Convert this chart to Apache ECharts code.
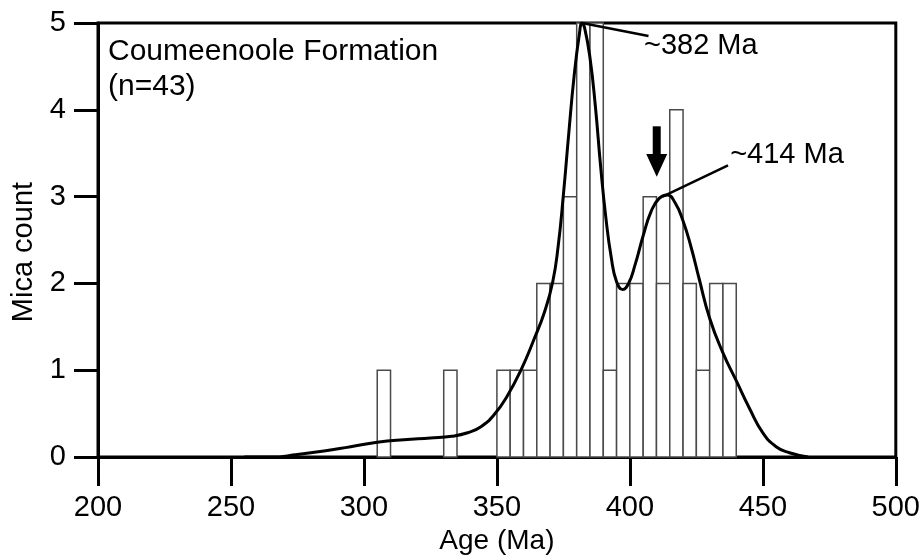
<!DOCTYPE html>
<html>
<head>
<meta charset="utf-8">
<script src="https://cdn.jsdelivr.net/npm/echarts@6/dist/echarts.min.js"></script>
<style>
html,body{margin:0;padding:0;background:#fff;}
#chart{width:923px;height:560px;}
</style>
</head>
<body>
<div id="chart"></div>
<script>
// Histogram bins (start age, Ma) and counts, bin width 5 Ma
const binStarts = [305, 330, 350, 355, 360, 365, 370, 375, 380, 385, 390, 395, 400, 405, 410, 415, 420, 425, 430, 435];
const binCounts = [1, 1, 1, 1, 1, 2, 2, 3, 5, 5, 1, 2, 2, 3, 2, 4, 2, 1, 2, 2];
const binWidth = 5;

// Probability density curve (age, scaled count)
const curveAges = [255, 265, 275, 285, 295, 305, 315, 325, 333, 339, 344, 349, 354, 359, 364, 368, 371, 373, 375, 377, 379, 381, 382, 383, 385, 387, 389, 391, 393, 395, 397.3, 399.5, 402, 405, 408, 411, 414, 417, 420, 423, 426, 430, 435, 440, 445, 450, 455, 460, 467];
const curveValues = [0, 0, 0.03, 0.07, 0.12, 0.17, 0.2, 0.22, 0.24, 0.28, 0.35, 0.49, 0.71, 1.0, 1.36, 1.68, 2.02, 2.42, 3.02, 3.72, 4.38, 4.87, 5.0, 4.94, 4.6, 4.05, 3.35, 2.75, 2.3, 2.02, 1.93, 2.0, 2.22, 2.55, 2.83, 2.98, 3.02, 2.93, 2.72, 2.42, 2.06, 1.6, 1.2, 0.88, 0.56, 0.28, 0.12, 0.05, 0];

// Axis ticks
const xTicks = [200, 250, 300, 350, 400, 450, 500];
const yTicks = [0, 1, 2, 3, 4, 5];

// Peak labels
const peakAges = [382, 414];
const peakTexts = ['~382 Ma', '~414 Ma'];

const FONT = 'Liberation Sans, Arial, sans-serif';

const histData = binStarts.map((s, i) => [s, binCounts[i]]);
const curveData = curveAges.map((a, i) => [a, curveValues[i]]);

const chart = echarts.init(document.getElementById('chart'), null, {renderer: 'canvas'});

const option = {
  backgroundColor: '#fff',
  animation: false,
  title: {
    text: 'Coumeenoole Formation\n(n=43)',
    left: 103,
    top: 29,
    textStyle: {fontFamily: FONT, fontSize: 30, fontWeight: 'normal', color: '#000', lineHeight: 35}
  },
  grid: {
    left: 98, right: 21, top: 23, bottom: 94,
    show: true, borderColor: '#000', borderWidth: 3, backgroundColor: 'transparent'
  },
  xAxis: {
    type: 'value',
    min: xTicks[0], max: xTicks[xTicks.length - 1], interval: 50,
    name: 'Age (Ma)', nameLocation: 'middle', nameGap: 67,
    nameTextStyle: {fontFamily: FONT, fontSize: 28, color: '#000'},
    axisLine: {show: true, onZero: false, lineStyle: {color: '#000', width: 3}},
    axisTick: {show: true, inside: false, length: 29, lineStyle: {color: '#000', width: 3}},
    axisLabel: {fontFamily: FONT, fontSize: 29, color: '#000', margin: 36},
    splitLine: {show: false}
  },
  yAxis: {
    type: 'value',
    min: yTicks[0], max: yTicks[yTicks.length - 1], interval: 1,
    name: 'Mica count', nameLocation: 'middle', nameGap: 60,
    nameTextStyle: {fontFamily: FONT, fontSize: 29, color: '#000', padding: [0, 24, 0, 0]},
    axisLine: {show: true, onZero: false, lineStyle: {color: '#000', width: 3}},
    axisTick: {show: true, inside: false, length: 24, lineStyle: {color: '#000', width: 3}},
    axisLabel: {fontFamily: FONT, fontSize: 29, color: '#000', margin: 32},
    splitLine: {show: false}
  },
  series: [
    {
      name: 'histogram',
      type: 'custom',
      data: histData,
      z: 2,
      renderItem: function (params, api) {
        const start = api.value(0), count = api.value(1);
        const p0 = api.coord([start, count]);
        const p1 = api.coord([start + binWidth, 0]);
        return {
          type: 'rect',
          shape: {x: p0[0], y: p0[1], width: p1[0] - p0[0], height: p1[1] - p0[1]},
          style: {fill: '#fff', stroke: '#4a4a4a', lineWidth: 1.5}
        };
      }
    },
    {
      name: 'pdf',
      type: 'line',
      data: curveData,
      smooth: 0.5,
      showSymbol: false,
      symbol: 'none',
      z: 3,
      lineStyle: {color: '#000', width: 3}
    },
    {
      name: 'annotations',
      type: 'custom',
      data: [[0, 0]],
      z: 4,
      clip: false,
      renderItem: function (params, api) {
        const a0 = api.coord([peakAges[0], 5]);
        const a1 = api.coord([407, 4.85]);
        const t0 = api.coord([405.3, 4.73]);
        const b0 = api.coord([peakAges[1] - 1.7, 3.0]);
        const b1 = api.coord([436.9, 3.36]);
        const t1 = api.coord([437.7, 3.48]);
        const arTop = api.coord([410.1, 3.81]);
        const arBase = api.coord([410.1, 3.49]);
        const arTip = api.coord([410.1, 3.23]);
        return {
          type: 'group',
          children: [
            {type: 'line', shape: {x1: a0[0], y1: a0[1], x2: a1[0], y2: a1[1]}, style: {stroke: '#000', lineWidth: 2.5}},
            {type: 'text', x: t0[0], y: t0[1], style: {text: peakTexts[0], fontFamily: FONT, fontSize: 29, fill: '#000', align: 'left', verticalAlign: 'middle'}},
            {type: 'line', shape: {x1: b0[0], y1: b0[1], x2: b1[0], y2: b1[1]}, style: {stroke: '#000', lineWidth: 2.5}},
            {type: 'text', x: t1[0], y: t1[1], style: {text: peakTexts[1], fontFamily: FONT, fontSize: 29, fill: '#000', align: 'left', verticalAlign: 'middle'}},
            {type: 'rect', shape: {x: arTop[0] - 4, y: arTop[1], width: 8, height: arBase[1] - arTop[1] + 1}, style: {fill: '#000'}},
            {type: 'polygon', shape: {points: [[arBase[0] - 10.5, arBase[1]], [arBase[0] + 10.5, arBase[1]], [arTip[0], arTip[1]]]}, style: {fill: '#000'}}
          ]
        };
      }
    }
  ]
};

chart.setOption(option);
</script>
</body>
</html>
